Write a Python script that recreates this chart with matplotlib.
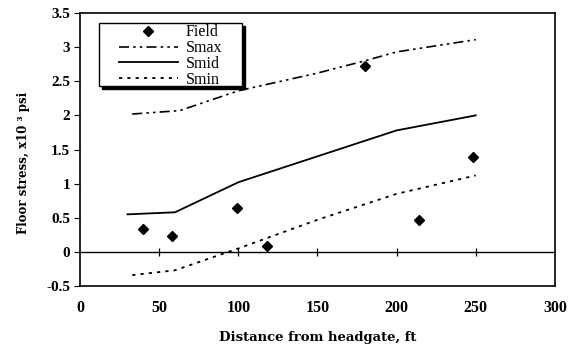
import matplotlib
matplotlib.use('Agg')
import matplotlib.pyplot as plt
from matplotlib.patches import Rectangle
from matplotlib.transforms import offset_copy

# field measurements
field_x = [40, 58, 99, 118, 180, 214, 248]
field_y = [0.34, 0.23, 0.65, 0.08, 2.72, 0.46, 1.39]

# calculated stress envelopes
smax_x = [33, 63, 100, 150, 180, 200, 250]
smax_y = [2.02, 2.07, 2.36, 2.62, 2.80, 2.93, 3.11]
smid_x = [30, 60, 100, 150, 200, 250]
smid_y = [0.55, 0.58, 1.02, 1.40, 1.78, 2.00]
smin_x = [33, 60, 100, 150, 200, 250]
smin_y = [-0.34, -0.27, 0.05, 0.47, 0.85, 1.12]

xticks = [0, 50, 100, 150, 200, 250, 300]
yticks = [-0.5, 0, 0.5, 1, 1.5, 2, 2.5, 3, 3.5]
ytick_labels = ['-0.5', '0', '0.5', '1', '1.5', '2', '2.5', '3', '3.5']

plt.rcParams['font.family'] = ['Liberation Serif', 'DejaVu Serif']

fig = plt.figure(figsize=(5.81, 3.52), dpi=100)
ax = fig.add_axes([0.1377, 0.1875, 0.8173, 0.7755])

ax.plot(field_x, field_y, linestyle='none', marker='D', markersize=5.5,
        color='black', label='Field')
ax.plot(smax_x, smax_y, color='black', lw=1.2,
        dashes=(6, 2.5, 1.5, 2.5, 1.5, 2.5), label='Smax')
ax.plot(smid_x, smid_y, color='black', lw=1.3, label='Smid')
ax.plot(smin_x, smin_y, color='black', lw=1.3, dashes=(1.8, 2.8), label='Smin')

# zero line with its own tick marks
ax.axhline(0, color='black', lw=1.0, zorder=1)
ax.plot(xticks[1:-1], [0] * (len(xticks) - 2), linestyle='none', marker='|',
        markersize=6, color='black', markeredgewidth=0.9, zorder=1)

ax.set_xlim(0, 300)
ax.set_ylim(-0.5, 3.5)
ax.set_xticks(xticks)
ax.set_yticks(yticks)
ax.set_yticklabels(ytick_labels)
ax.tick_params(axis='x', length=0, pad=10, labelsize=11.5)
ax.tick_params(axis='y', length=4, direction='out', pad=3, labelsize=11)
for lab in ax.get_xticklabels() + ax.get_yticklabels():
    lab.set_fontweight('bold')
for sp in ax.spines.values():
    sp.set_linewidth(1.2)

ax.set_xlabel('Distance from headgate, ft', fontweight='bold', fontsize=9.5,
              family='DejaVu Serif')
ax.xaxis.set_label_coords(0.5, -0.165)
ax.set_ylabel('Floor stress, x10 ³ psi', fontweight='bold', fontsize=8.5,
              family='DejaVu Serif')
ax.yaxis.set_label_coords(-0.105, 0.45)

# legend box drawn by hand, with a drop shadow
box = (0.04, 0.733, 0.301, 0.230)
shadow = Rectangle(box[:2], box[2], box[3], facecolor='black', edgecolor='black',
                   transform=offset_copy(ax.transAxes, fig=fig, x=3, y=-3,
                                         units='dots'),
                   zorder=4)
frame = Rectangle(box[:2], box[2], box[3], facecolor='white', edgecolor='black',
                  lw=1.0, transform=ax.transAxes, zorder=4.5)
ax.add_patch(shadow)
ax.add_patch(frame)

leg = ax.legend(loc='upper left', bbox_to_anchor=(0.082, 0.958), fontsize=11.5,
                frameon=False, handlelength=3.7, handletextpad=0.5,
                borderpad=0, labelspacing=-0.02, borderaxespad=0)
leg.set_zorder(5)

fig.savefig('out.png', dpi=100)
